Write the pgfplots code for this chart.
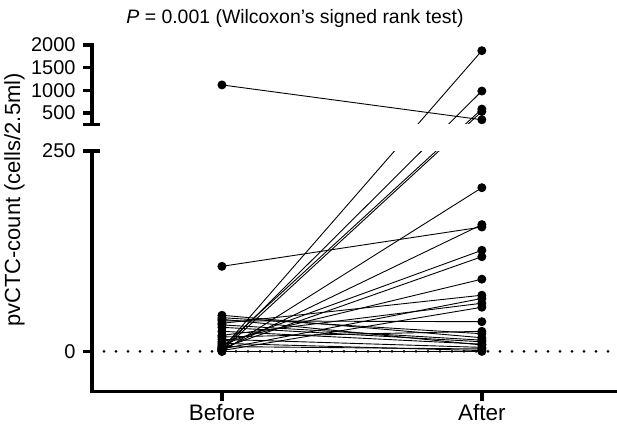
\documentclass[border=0pt]{standalone}
\usepackage{pgfplots}
\pgfplotsset{compat=1.18}
\usepackage{fontspec}
\setmainfont{Liberation Sans}

% broken axis: 0..250 below, 250..2000 compressed above a gap
\def\lowtop{0.69461}
\def\uppbot{0.77078}
\pgfplotsset{pair/.style={black, line width=0.9bp, mark=*, mark size=4bp,
    mark options={solid, fill=black, draw=black}}}

\begin{document}
\begin{tikzpicture}
\path[use as bounding box] (0,0) rectangle (617bp,434bp);
\begin{axis}[
    at={(92bp,42.5bp)}, anchor=south west,
    scale only axis, width=525bp, height=346.5bp,
    xmin=0.5, xmax=2.52,
    ymin=-50, ymax=2000,
    clip=false,
    y coord trafo/.code={\pgfmathparse{(#1<=250)*(#1)+(#1>250)*(282.9+(#1-250)*0.05655)}},
    axis x line*=bottom, axis y line*=left,
    axis line style={-, opacity=0},
    xtick={1,2}, xticklabels={Before,After},
    ytick={0,250,500,1000,1500,2000},
    yticklabels={0,250,500,1000,1500,2000},
    major tick length=0bp, tick style={draw=none},
    xticklabel style={font=\fontsize{22.5}{24}\selectfont, yshift=-9bp},
    yticklabel style={font=\fontsize{20}{22}\selectfont, xshift=-13bp},
  ]
  \addplot[no marks, black, line width=3bp, line cap=round, dash pattern=on 0pt off 12bp]
    coordinates {(0.5,0) (2.52,0)};

  \addplot[pair] coordinates {(1,1120) (2,352)};
  \addplot[pair] coordinates {(1,106) (2,155)};
  \addplot[pair] coordinates {(1,3) (2,1874)};
  \addplot[pair] coordinates {(1,2) (2,985)};
  \addplot[pair] coordinates {(1,5) (2,588)};
  \addplot[pair] coordinates {(1,1) (2,535)};
  \addplot[pair] coordinates {(1,0) (2,204)};
  \addplot[pair] coordinates {(1,2) (2,158)};
  \addplot[pair] coordinates {(1,8) (2,126)};
  \addplot[pair] coordinates {(1,4) (2,118)};
  \addplot[pair] coordinates {(1,12) (2,90)};
  \addplot[pair] coordinates {(1,35) (2,70)};
  \addplot[pair] coordinates {(1,3) (2,66)};
  \addplot[pair] coordinates {(1,20) (2,60)};
  \addplot[pair] coordinates {(1,1) (2,55)};
  \addplot[pair] coordinates {(1,38) (2,37)};
  \addplot[pair] coordinates {(1,42) (2,22)};
  \addplot[pair] coordinates {(1,45) (2,17)};
  \addplot[pair] coordinates {(1,30) (2,12)};
  \addplot[pair] coordinates {(1,25) (2,9)};
  \addplot[pair] coordinates {(1,15) (2,5)};
  \addplot[pair] coordinates {(1,10) (2,1)};
  \addplot[pair] coordinates {(1,0) (2,0)};
  \addplot[pair] coordinates {(1,6) (2,3)};
  \addplot[pair] coordinates {(1,40) (2,8)};
  \addplot[pair] coordinates {(1,33) (2,14)};
  \addplot[pair] coordinates {(1,18) (2,25)};

  % blank the gap between the two segments
  \fill[white] ([xshift=3bp]rel axis cs:0,\lowtop) rectangle (rel axis cs:1,\uppbot);
  % axis lines: x, and the two pieces of y with end caps
  \begin{scope}[line width=3.5bp, black]
    \draw ([xshift=-1.75bp]rel axis cs:0,0) -- (rel axis cs:1,0);
    \draw (rel axis cs:0,0) -- (rel axis cs:0,\lowtop);
    \draw (rel axis cs:0,\uppbot) -- ([yshift=1.75bp]rel axis cs:0,1);
    \draw ([xshift=-9bp]rel axis cs:0,\lowtop) -- ([xshift=8bp]rel axis cs:0,\lowtop);
    \draw ([xshift=-9bp]rel axis cs:0,\uppbot) -- ([xshift=8bp]rel axis cs:0,\uppbot);
    \draw (axis cs:0.5,0) -- ([xshift=-9bp]axis cs:0.5,0);
    \draw (axis cs:0.5,500) -- ([xshift=-9bp]axis cs:0.5,500);
    \draw (axis cs:0.5,1000) -- ([xshift=-9bp]axis cs:0.5,1000);
    \draw (axis cs:0.5,1500) -- ([xshift=-9bp]axis cs:0.5,1500);
    \draw (axis cs:0.5,2000) -- ([xshift=-9bp]axis cs:0.5,2000);
    \draw (axis cs:1,-50) -- ([yshift=-9bp]axis cs:1,-50);
    \draw (axis cs:2,-50) -- ([yshift=-9bp]axis cs:2,-50);
  \end{scope}
\end{axis}
\node[font=\fontsize{19.5}{22}\selectfont] at (295bp,416bp)
  {\textit{P} = 0.001 (Wilcoxon’s signed rank test)};
\node[rotate=90, font=\fontsize{22}{24}\selectfont] at (14.5bp,234bp)
  {pvCTC-count (cells/2.5ml)};
\end{tikzpicture}
\end{document}
